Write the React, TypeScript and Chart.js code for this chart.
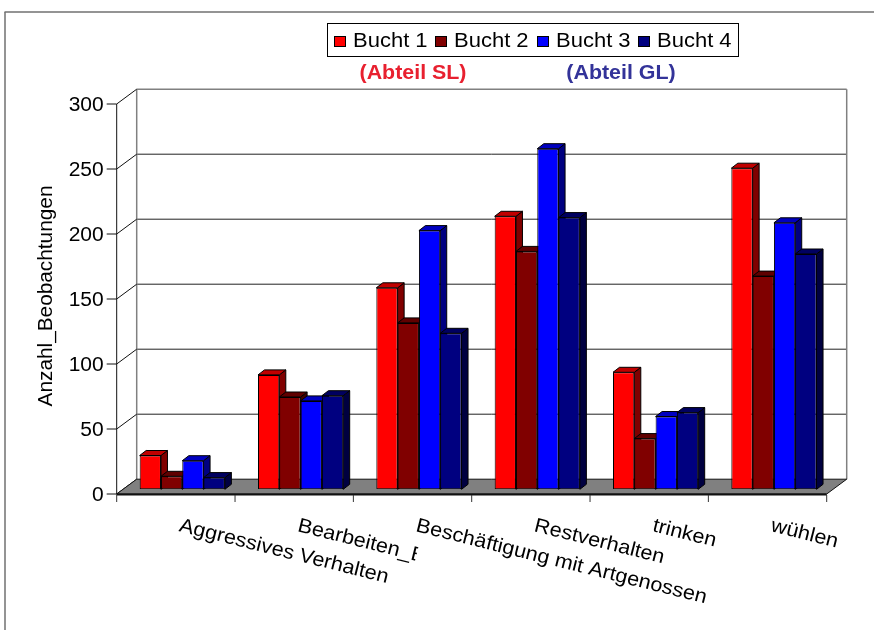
import { useEffect, useRef } from "react"
import { Chart, registerables } from "chart.js"

Chart.register(...registerables)

// Daten
const CATEGORIES = [
  "Aggressives Verhalten",
  "Bearbeiten_B",
  "Beschäftigung mit Artgenossen",
  "Restverhalten",
  "trinken",
  "wühlen",
]
const SERIES_NAMES = ["Bucht 1", "Bucht 2", "Bucht 3", "Bucht 4"]
const BUCHT_1 = [26, 88, 155, 210, 90, 247]
const BUCHT_2 = [10, 71, 128, 183, 39, 164]
const BUCHT_3 = [22, 68, 199, 262, 56, 205]
const BUCHT_4 = [9, 72, 120, 209, 59, 181]
const Y_TICKS = [0, 50, 100, 150, 200, 250, 300]
const Y_TITLE = "Anzahl_Beobachtungen"
const NOTE_SL = "(Abteil SL)"
const NOTE_GL = "(Abteil GL)"

// Farben: Vorderseite, Deckfläche, Seitenfläche
const FRONT_COLORS = ["#ff0000", "#800000", "#0000ff", "#000080"]
const TOP_COLORS = ["#c00000", "#600000", "#0000c0", "#000060"]
const SIDE_COLORS = ["#800000", "#400000", "#000080", "#000040"]

const FONT = '"Liberation Sans", Arial, sans-serif'

// 3D-Geometrie (Pixel)
const BAR_OFF_X = 6.4 // Balkenebene gegenüber Vorderkante
const BAR_OFF_Y = 4.7
const DEPTH_X = 20 // ganze Bodentiefe
const DEPTH_Y = 14.8
const BAR_DX = 6.5 // Tiefe eines Balkens
const BAR_DY = 5
const LABEL_ANGLE = (14 * Math.PI) / 180
const TEXT_STRETCH = 1.08 // Excel-Schrift wirkt etwas breiter

type Pt = [number, number]

function poly(ctx: CanvasRenderingContext2D, pts: Pt[], fill?: string, stroke?: string, lw = 1) {
  ctx.beginPath()
  ctx.moveTo(pts[0][0], pts[0][1])
  for (let i = 1; i < pts.length; i++) ctx.lineTo(pts[i][0], pts[i][1])
  ctx.closePath()
  if (fill) {
    ctx.fillStyle = fill
    ctx.fill()
  }
  if (stroke) {
    ctx.strokeStyle = stroke
    ctx.lineWidth = lw
    ctx.stroke()
  }
}

function line(ctx: CanvasRenderingContext2D, x1: number, y1: number, x2: number, y2: number, color: string, lw = 1) {
  ctx.beginPath()
  ctx.moveTo(x1, y1)
  ctx.lineTo(x2, y2)
  ctx.strokeStyle = color
  ctx.lineWidth = lw
  ctx.stroke()
}

// Text mit horizontaler Streckung am Ankerpunkt
function text(ctx: CanvasRenderingContext2D, s: string, x: number, y: number, stretch = TEXT_STRETCH) {
  ctx.save()
  ctx.translate(x, y)
  ctx.scale(stretch, 1)
  ctx.fillText(s, 0, 0)
  ctx.restore()
}

const scene3d = {
  id: "scene3d",
  beforeDraw(chart: any) {
    const ctx: CanvasRenderingContext2D = chart.ctx
    ctx.save()
    ctx.fillStyle = "#fff"
    ctx.fillRect(0, 0, chart.width, chart.height)
    // Rahmen
    line(ctx, 4.5, 12, chart.width, 12, "#707070", 1.5)
    line(ctx, 5, 12, 5, chart.height, "#707070", 1.5)
    ctx.restore()
  },
  beforeDatasetsDraw(chart: any) {
    const ctx: CanvasRenderingContext2D = chart.ctx
    const area = chart.chartArea
    const xs = chart.scales.x
    const ys = chart.scales.y
    const step = (area.right - area.left) / CATEGORIES.length
    const fL = area.left - BAR_OFF_X
    const fR = area.right - BAR_OFF_X
    const bL = fL + DEPTH_X
    const bR = fR + DEPTH_X
    const fy = (v: number) => ys.getPixelForValue(v) + BAR_OFF_Y
    const by = (v: number) => fy(v) - DEPTH_Y
    const top = Y_TICKS[Y_TICKS.length - 1]

    ctx.save()
    // Rückwand: Gitterlinien
    Y_TICKS.slice(1, -1).forEach((v) => line(ctx, bL, by(v), bR, by(v), "#222", 1))
    // Rückwand-Rahmen
    line(ctx, bL, by(top), bR, by(top), "#808080", 1.5)
    line(ctx, bL, by(top), bL, by(0), "#808080", 1.5)
    line(ctx, bR, by(top), bR, by(0), "#808080", 1.5)
    // Seitenwand-Diagonalen
    Y_TICKS.forEach((v) => line(ctx, fL, fy(v), bL, by(v), "#111", 1))
    // Boden
    poly(ctx, [[fL, fy(0)], [fR, fy(0)], [bR, by(0)], [bL, by(0)]], "#808080", "#111", 1)
    line(ctx, fL, fy(0) + 0.5, fR, fy(0) + 0.5, "#111", 2)
    // Vordere Achse
    line(ctx, fL, fy(top), fL, fy(0), "#111", 1)
    ctx.font = `20px ${FONT}`
    ctx.fillStyle = "#000"
    ctx.textAlign = "right"
    ctx.textBaseline = "middle"
    Y_TICKS.forEach((v) => {
      line(ctx, fL - 10, fy(v), fL, fy(v), "#111", 1)
      text(ctx, String(v), fL - 13, fy(v) + 1, 1.05)
    })
    // Kategorie-Teilstriche
    for (let k = 0; k <= CATEGORIES.length; k++) {
      const x = fL + k * step
      line(ctx, x, fy(0) + 1, x, fy(0) + 8, "#333", 1)
    }
    // Kategorie-Beschriftungen
    ctx.textAlign = "left"
    ctx.textBaseline = "alphabetic"
    CATEGORIES.forEach((c, k) => {
      const cx = xs.getPixelForValue(k) - BAR_OFF_X
      ctx.save()
      ctx.translate(cx + 6, 517)
      ctx.rotate(LABEL_ANGLE)
      ctx.beginPath()
      ctx.rect(-5, -10, k === 1 ? 127 : 400, 40)
      ctx.clip()
      text(ctx, c, 0, 14.5)
      ctx.restore()
    })
    // Achsentitel
    ctx.save()
    ctx.translate(52, 296)
    ctx.rotate(-Math.PI / 2)
    ctx.textAlign = "center"
    text(ctx, Y_TITLE, 0, 0, 1.04)
    ctx.restore()

    // Tiefenflächen der Balken
    for (let k = 0; k < CATEGORIES.length; k++) {
      for (let i = 0; i < SERIES_NAMES.length; i++) {
        const el = chart.getDatasetMeta(i).data[k]
        const l = el.x - el.width / 2
        const r = el.x + el.width / 2
        const t = el.y
        const b = el.base
        poly(ctx, [[r, t], [r + BAR_DX, t - BAR_DY], [r + BAR_DX, b - BAR_DY], [r, b]], SIDE_COLORS[i], "#000", 1)
        poly(ctx, [[l, t], [r, t], [r + BAR_DX, t - BAR_DY], [l + BAR_DX, t - BAR_DY]], TOP_COLORS[i], "#000", 1)
      }
    }
    ctx.restore()
  },
  afterDraw(chart: any) {
    const ctx: CanvasRenderingContext2D = chart.ctx
    ctx.save()
    // Legende
    ctx.fillStyle = "#fff"
    ctx.fillRect(327, 23, 411, 33)
    ctx.strokeStyle = "#000"
    ctx.lineWidth = 1
    ctx.strokeRect(327.5, 23.5, 411, 33)
    const itemX = [334, 435, 537, 638]
    ctx.font = `20px ${FONT}`
    ctx.textAlign = "left"
    ctx.textBaseline = "alphabetic"
    SERIES_NAMES.forEach((name, i) => {
      ctx.fillStyle = FRONT_COLORS[i]
      ctx.fillRect(itemX[i], 36, 12, 11)
      ctx.strokeRect(itemX[i] + 0.5, 36.5, 11, 10)
      ctx.fillStyle = "#000"
      text(ctx, name, itemX[i] + 19, 47, 1.1)
    })
    // Hinweise
    ctx.font = `bold 20px ${FONT}`
    ctx.textAlign = "center"
    ctx.textBaseline = "middle"
    ctx.fillStyle = "#e8202f"
    text(ctx, NOTE_SL, 413, 73, 1.07)
    ctx.fillStyle = "#333399"
    text(ctx, NOTE_GL, 621, 73, 1.07)
    ctx.restore()
  },
}

export default function App() {
  const chartRef = useRef<HTMLCanvasElement>(null)
  const chartInstance = useRef<Chart<"bar">>()

  useEffect(() => {
    document.body.style.margin = "0"
    if (!chartRef.current) return

    if (chartInstance.current) {
      chartInstance.current.destroy()
    }

    const series = [BUCHT_1, BUCHT_2, BUCHT_3, BUCHT_4]

    chartInstance.current = new Chart(chartRef.current, {
      type: "bar",
      data: {
        labels: CATEGORIES,
        datasets: series.map((values, i) => ({
          label: SERIES_NAMES[i],
          data: values,
          backgroundColor: FRONT_COLORS[i],
          borderColor: "#000",
          borderWidth: 1,
          borderSkipped: false,
          categoryPercentage: 0.72,
          barPercentage: 1,
        })),
      },
      options: {
        responsive: true,
        maintainAspectRatio: false,
        animation: false,
        layout: {
          padding: { left: 123.1, right: 40.9, top: 99.3, bottom: 140.7 },
        },
        scales: {
          x: { display: false },
          y: { display: false, min: 0, max: 300 },
        },
        plugins: {
          legend: { display: false },
          tooltip: { enabled: false },
        },
      },
      plugins: [scene3d],
    })

    return () => {
      if (chartInstance.current) {
        chartInstance.current.destroy()
        chartInstance.current = undefined
      }
    }
  }, [])

  return (
    <div style={{ width: 874, height: 630, position: "relative", overflow: "hidden" }}>
      <canvas ref={chartRef}></canvas>
    </div>
  )
}
